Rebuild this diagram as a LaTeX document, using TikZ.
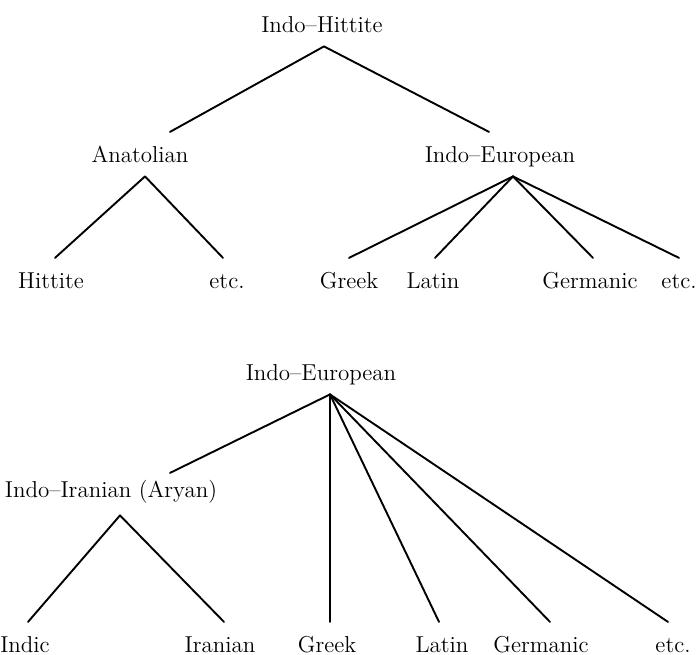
\documentclass[tikz,border=0pt]{standalone}
\usepackage{tikz}

\begin{document}
\begin{tikzpicture}[x=0.5pt,y=-0.5pt,line cap=round,line join=round,
  lang/.style={font=\fontsize{11.5}{13}\selectfont,anchor=base,inner xsep=0pt,inner ysep=7pt,text height=7.85pt,text depth=0pt},
  branch/.style={line width=0.95pt}]
  \useasboundingbox (0,0) rectangle (700,654);

  % Upper tree: Indo-Hittite
  \node[lang] (ih)   at (322,32)  {Indo--Hittite};
  \node[lang] (ana)  at (140,162) {Anatolian};
  \node[lang] (ie1)  at (500,162) {Indo--European};
  \node[lang] (hit)  at (51,288)  {Hittite};
  \node[lang] (etc1) at (227,288) {etc.};
  \node[lang] (gre1) at (349,288) {Greek};
  \node[lang] (lat1) at (433,288) {Latin};
  \node[lang] (ger1) at (590,288) {Germanic};
  \node[lang] (etc2) at (679,288) {etc.};

  \draw[branch] ([xshift=15pt]ana.north) -- ([xshift=1pt]ih.south) -- ([xshift=-5.5pt]ie1.north);
  \draw[branch] ([xshift=2pt]hit.north) -- ([xshift=2.5pt]ana.south) -- ([xshift=-2pt]etc1.north);
  \draw[branch] (gre1.north) -- ([xshift=6.5pt]ie1.south);
  \draw[branch] ([xshift=1pt]lat1.north) -- ([xshift=6.5pt]ie1.south);
  \draw[branch] ([xshift=1.5pt]ger1.north) -- ([xshift=6.5pt]ie1.south);
  \draw[branch] (etc2.north) -- ([xshift=6.5pt]ie1.south);

  % Lower tree: Indo-European
  \node[lang] (ie2)  at (321,380) {Indo--European};
  \node[lang] (iir)  at (111,497) {Indo--Iranian (Aryan)};
  \node[lang] (ind)  at (25,652)  {Indic};
  \node[lang] (ira)  at (220,652) {Iranian};
  \node[lang] (gre2) at (327,652) {Greek};
  \node[lang] (lat2) at (442,652) {Latin};
  \node[lang] (ger2) at (541,652) {Germanic};
  \node[lang] (etc3) at (673,652) {etc.};

  \draw[branch] ([xshift=29.5pt,yshift=-3pt]iir.north) -- ([xshift=4.5pt]ie2.south);
  \foreach \n/\dx in {gre2/1.5pt,lat2/-1.5pt,ger2/4.5pt,etc3/-2.5pt}
    \draw[branch] ([xshift=\dx]\n.north) -- ([xshift=4.5pt]ie2.south);
  \draw[branch] ([xshift=1.5pt]ind.north) -- ([xshift=4.5pt,yshift=-2pt]iir.south) -- ([xshift=2pt]ira.north);
\end{tikzpicture}
\end{document}
